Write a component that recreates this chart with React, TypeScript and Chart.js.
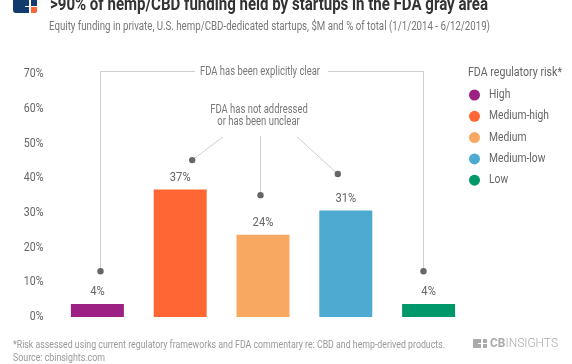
import React, { useEffect, useRef } from 'react';
import { Chart, registerables } from 'chart.js';

Chart.register(...registerables);

const categories = ['High', 'Medium-high', 'Medium', 'Medium-low', 'Low'];
const shares = [4, 37, 24, 31, 4];
const colors = ['#9C2182', '#FF6633', '#F9A862', '#4DAAD1', '#00976B'];
const yTicks = [0, 10, 20, 30, 40, 50, 60, 70];
const legendTitle = 'FDA regulatory risk*';
const noteClear = 'FDA has been explicitly clear';
const noteUnclear = ['FDA has not addressed', 'or has been unclear'];
const titleText = '>90% of hemp/CBD funding held by startups in the FDA gray area';
const subtitleText = 'Equity funding in private, U.S. hemp/CBD-dedicated startups, $M and % of total (1/1/2014 - 6/12/2019)';
const footnoteText = '*Risk assessed using current regulatory frameworks and FDA commentary re: CBD and hemp-derived products.';
const sourceText = 'Source: cbinsights.com';

const FONT = 'Roboto, "Noto Sans", sans-serif';

function drawText(ctx: CanvasRenderingContext2D, str: string, x: number, y: number, align: CanvasTextAlign, font: string, color: string, sx: number) {
  ctx.save();
  ctx.font = font;
  ctx.fillStyle = color;
  ctx.textBaseline = 'middle';
  ctx.textAlign = align;
  ctx.translate(x, y);
  ctx.scale(sx, 1);
  ctx.fillText(str, 0, 0);
  ctx.restore();
}

function fitScale(ctx: CanvasRenderingContext2D, str: string, font: string, target: number) {
  ctx.save();
  ctx.font = font;
  const w = ctx.measureText(str).width;
  ctx.restore();
  return target / w;
}

function dot(ctx: CanvasRenderingContext2D, x: number, y: number) {
  ctx.save();
  ctx.fillStyle = '#666';
  ctx.beginPath();
  ctx.arc(x, y, 3.2, 0, Math.PI * 2);
  ctx.fill();
  ctx.restore();
}

function line(ctx: CanvasRenderingContext2D, pts: number[][]) {
  ctx.save();
  ctx.strokeStyle = '#cfcfcf';
  ctx.lineWidth = 1;
  ctx.beginPath();
  pts.forEach((p, i) => (i === 0 ? ctx.moveTo(p[0], p[1]) : ctx.lineTo(p[0], p[1])));
  ctx.stroke();
  ctx.restore();
}

const overlayPlugin = {
  id: 'overlay',
  afterDraw(chart: any) {
    const ctx: CanvasRenderingContext2D = chart.ctx;
    const xs = chart.scales.x;
    const ys = chart.scales.y;
    const tickFont = `12.5px ${FONT}`;
    const sx = 0.85;

    // y tick labels
    yTicks.forEach((v) => {
      drawText(ctx, v + '%', 43.5, ys.getPixelForValue(v), 'right', tickFont, '#666', sx);
    });

    // value labels
    shares.forEach((v, i) => {
      drawText(ctx, v + '%', xs.getPixelForValue(i), ys.getPixelForValue(v) - 11, 'center', `13px ${FONT}`, '#666', 0.86);
    });

    // "explicitly clear" bracket
    const noteFont = `12px ${FONT}`;
    const nsx = fitScale(ctx, noteClear, noteFont, 120);
    const leftX = Math.round(xs.getPixelForValue(0) + 2.6) + 0.5;
    const rightX = Math.round(xs.getPixelForValue(4) - 5.6) + 0.5;
    const topY = Math.round(ys.getPixelForValue(70) - 3) + 0.5;
    const dotY = ys.getPixelForValue(13.2);
    const cx = 260;
    line(ctx, [[cx - 65, topY], [leftX, topY], [leftX, dotY]]);
    line(ctx, [[cx + 68, topY], [rightX, topY], [rightX, dotY]]);
    dot(ctx, leftX, dotY);
    dot(ctx, rightX, dotY);
    drawText(ctx, noteClear, cx, topY, 'center', noteFont, '#777', nsx);

    // "not addressed" callout
    drawText(ctx, noteUnclear[0], 259, ys.getPixelForValue(59.6), 'center', noteFont, '#777', nsx);
    drawText(ctx, noteUnclear[1], 258.5, ys.getPixelForValue(56.1), 'center', noteFont, '#777', nsx);
    const startY = ys.getPixelForValue(51.9);
    const d1 = [xs.getPixelForValue(1) + 12, ys.getPixelForValue(45.2)];
    const d2 = [Math.round(xs.getPixelForValue(2) - 3) + 0.5, ys.getPixelForValue(35.1)];
    const d3 = [xs.getPixelForValue(3) - 8, ys.getPixelForValue(41.2)];
    line(ctx, [[223, startY], d1]);
    line(ctx, [[d2[0], startY - 1], d2]);
    line(ctx, [[297, startY], d3]);
    dot(ctx, d1[0], d1[1]);
    dot(ctx, d2[0], d2[1]);
    dot(ctx, d3[0], d3[1]);

    // legend
    const lgFont = `12px ${FONT}`;
    drawText(ctx, legendTitle, 468, 73, 'left', lgFont, '#666', fitScale(ctx, legendTitle, lgFont, 94));
    const lsx = fitScale(ctx, 'Medium-high', `12.5px ${FONT}`, 60);
    categories.forEach((c, i) => {
      const y = 95 + i * 21.3;
      ctx.save();
      ctx.fillStyle = colors[i];
      ctx.beginPath();
      ctx.arc(474.5, y, 5.5, 0, Math.PI * 2);
      ctx.fill();
      ctx.restore();
      drawText(ctx, c, 489, y, 'left', `12.5px ${FONT}`, '#666', lsx);
    });
  },
};

type TextSpec = { text: string; left: number; baseline: number; size: number; weight: number; color: string; width: number };

const textSpecs: TextSpec[] = [
  { text: titleText, left: 50, baseline: 9.5, size: 19, weight: 700, color: '#333', width: 438 },
  { text: subtitleText, left: 49, baseline: 30.5, size: 12, weight: 400, color: '#777', width: 441 },
  { text: footnoteText, left: 13, baseline: 348.5, size: 11, weight: 400, color: '#999', width: 432 },
  { text: sourceText, left: 13, baseline: 361, size: 11, weight: 400, color: '#999', width: 92 },
];

export default function App() {
  const canvasRef = useRef<HTMLCanvasElement>(null);
  const textRefs = useRef<(HTMLDivElement | null)[]>([]);
  const cbRef = useRef<HTMLDivElement>(null);

  useEffect(() => {
    textRefs.current.forEach((el, i) => {
      if (!el) return;
      el.style.transform = 'none';
      const w = el.getBoundingClientRect().width;
      el.style.transform = `scaleX(${textSpecs[i].width / w})`;
    });
    if (cbRef.current) {
      const el = cbRef.current;
      el.style.transform = 'none';
      const w = el.getBoundingClientRect().width;
      el.style.transform = `scaleX(${68 / w})`;
    }

    const canvas = canvasRef.current!;
    const chart = new Chart(canvas, {
      type: 'bar',
      data: {
        labels: categories,
        datasets: [
          {
            data: shares,
            backgroundColor: colors,
            borderColor: 'rgba(255,255,255,0.3)',
            borderWidth: 1,
            barPercentage: 0.664,
            categoryPercentage: 1,
          },
        ],
      },
      options: {
        animation: false,
        responsive: false,
        layout: { padding: { left: 0, right: 102, top: 74, bottom: 47 } },
        plugins: { legend: { display: false }, tooltip: { enabled: false }, title: { display: false } },
        scales: {
          x: { display: false, offset: true },
          y: {
            min: 0,
            max: 70,
            ticks: { display: false, stepSize: 10 },
            grid: { display: false },
            border: { display: false },
            afterFit: (s: any) => {
              s.width = 56;
            },
          },
        },
      },
      plugins: [overlayPlugin],
    });
    return () => chart.destroy();
  }, []);

  return (
    <div style={{ position: 'fixed', left: 0, top: 0, width: 572, height: 364, background: '#fff', overflow: 'hidden', fontFamily: FONT }}>
      <canvas ref={canvasRef} width={572} height={364} style={{ position: 'absolute', left: 0, top: 0 }} />
      {/* top-left logo */}
      <div style={{ position: 'absolute', left: 13, top: -12, width: 24, height: 25, background: '#113B6C', borderRadius: 3, overflow: 'hidden' }}>
        <div style={{ position: 'absolute', left: 16, top: 0, width: 1.5, height: 25, background: '#fff' }} />
        <div style={{ position: 'absolute', left: 16, top: 17.5, width: 8, height: 1.5, background: '#fff' }} />
        <div style={{ position: 'absolute', left: 17.5, top: 19, width: 7, height: 7, background: '#FF6633' }} />
        <div style={{ position: 'absolute', left: 12, top: 17.5, width: 4, height: 1.5, background: '#fff' }} />
      </div>
      {textSpecs.map((t, i) => (
        <div
          key={i}
          ref={(el) => {
            textRefs.current[i] = el;
          }}
          style={{
            position: 'absolute',
            left: t.left,
            top: t.baseline - 0.842 * t.size,
            fontSize: t.size,
            lineHeight: t.size + 'px',
            fontWeight: t.weight,
            color: t.color,
            whiteSpace: 'nowrap',
            transformOrigin: '0 0',
          }}
        >
          {t.text}
        </div>
      ))}
      {/* CB Insights wordmark */}
      <div style={{ position: 'absolute', left: 473, top: 338.5, width: 14, height: 9, background: '#aaa', borderRadius: 1 }}>
        <div style={{ position: 'absolute', left: 8, top: 0, width: 1.5, height: 9, background: '#fff' }} />
        <div style={{ position: 'absolute', left: 5, top: 4, width: 9, height: 1.5, background: '#fff' }} />
      </div>
      <div
        ref={cbRef}
        style={{
          position: 'absolute',
          left: 490,
          top: 347.5 - 0.842 * 12.7,
          fontSize: 12.7,
          lineHeight: '12.7px',
          color: '#aaa',
          whiteSpace: 'nowrap',
          transformOrigin: '0 0',
        }}
      >
        <span style={{ fontWeight: 700 }}>CB</span>
        <span style={{ fontWeight: 300 }}>INSIGHTS</span>
      </div>
    </div>
  );
}
